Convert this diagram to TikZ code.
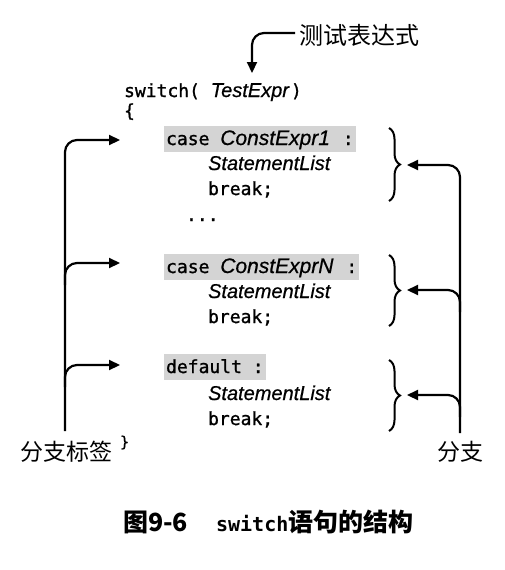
\documentclass[tikz,border=0pt]{standalone}
\usepackage{fontspec}
\setmainfont{Liberation Sans}
\setmonofont{DejaVu Sans Mono}
\newfontfamily\codefont{DejaVu Sans Mono}[FakeBold=1.2]
\newfontfamily\itfont{Liberation Sans Italic}[FakeBold=0.6]
\newfontfamily\cjk{Noto Sans CJK SC}
\usetikzlibrary{arrows.meta,decorations.pathreplacing}
\newcommand{\ite}[1]{{\fontsize{20}{22}\selectfont\itfont #1}}
\begin{document}
\begin{tikzpicture}[x=1pt,y=-1pt,
  line width=2.2pt,
  arr/.style={-{Triangle[length=11pt,width=10pt]}, rounded corners=12pt},
  code/.style={anchor=base west, inner sep=0pt, font=\fontsize{18}{20}\selectfont\codefont},
  hl/.style={code, fill=black!17, inner xsep=2pt, inner ysep=0pt, text height=19pt, text depth=7pt},
  cjklab/.style={inner sep=0pt, font=\fontsize{23}{25}\selectfont\cjk},
  brc/.style={decorate, decoration={brace, amplitude=11pt}, line width=2pt}]
\useasboundingbox (0,0) rectangle (505,570);

% top label and code
\node[cjklab, anchor=west, font=\fontsize{24}{26}\selectfont\cjk] (test) at (298,35) {测试表达式};
\node[code] (sw) at (123,97) {switch( \ite{TestExpr}\hspace{2pt})};
\node[code] (lb) at (123,117) {\{};

\node[hl] (c1) at (163,145) {case {\fontsize{21}{22}\selectfont\itfont ConstExpr1}\hspace{2pt} :\hspace{4pt}};
\node[code] (s1) at (207,170) {\ite{StatementList}};
\node[code] (k1) at (207,195) {break;};
\node[code] (dots) at (185,221) {...};

\node[hl] (c2) at (163,273) {case {\fontsize{21}{22}\selectfont\itfont ConstExprN}\hspace{2pt} :\hspace{4pt}};
\node[code] (s2) at (207,298) {\ite{StatementList}};
\node[code] (k2) at (207,323) {break;};

\node[hl] (c3) at (163,373) {default :};
\node[code] (s3) at (207,400) {\ite{StatementList}};
\node[code] (k3) at (207,425) {break;};

% bottom labels
\node[cjklab] (lab) at (66,452) {分支标签};
\node[code, font=\fontsize{15}{16}\selectfont\codefont] (rb) at (119,447) {\}};
\node[cjklab] (br) at (460,452) {分支};

% caption
\node[anchor=west, inner sep=0pt] (cap) at (122,522)
  {\fontsize{25}{27}\selectfont{\cjk\bfseries 图9-6}\hspace{28pt}{\ttfamily\bfseries\fontsize{20}{22}\selectfont switch}{\cjk\bfseries 语句的结构}};

% top arrow
\coordinate (tstart) at (295,33);
\coordinate (ttip) at (252,73);
\draw[arr] (tstart) -| (ttip);

% left connectors
\coordinate (lbot) at (65,431);
\coordinate (l1) at (120,140);
\coordinate (l2) at (120,263);
\coordinate (l3) at (120,365);
\coordinate (l2s) at (65,285);
\coordinate (l3s) at (65,387);
\draw[arr] (lbot) |- (l1);
\draw[arr] (l2s) |- (l2);
\draw[arr] (l3s) |- (l3);

% braces
\coordinate (b1t) at (389,128);
\coordinate (b1b) at (389,201);
\coordinate (b2t) at (389,255);
\coordinate (b2b) at (389,326);
\coordinate (b3t) at (389,360);
\coordinate (b3b) at (389,431);
\draw[brc] (b1t) -- (b1b);
\draw[brc] (b2t) -- (b2b);
\draw[brc] (b3t) -- (b3b);

% right connectors
\coordinate (rbot) at (460,433);
\coordinate (r1) at (407,165);
\coordinate (r2) at (407,290);
\coordinate (r3) at (407,395);
\coordinate (r2s) at (460,312);
\coordinate (r3s) at (460,417);
\draw[arr] (rbot) |- (r1);
\draw[arr] (r2s) |- (r2);
\draw[arr] (r3s) |- (r3);
\end{tikzpicture}
\end{document}
